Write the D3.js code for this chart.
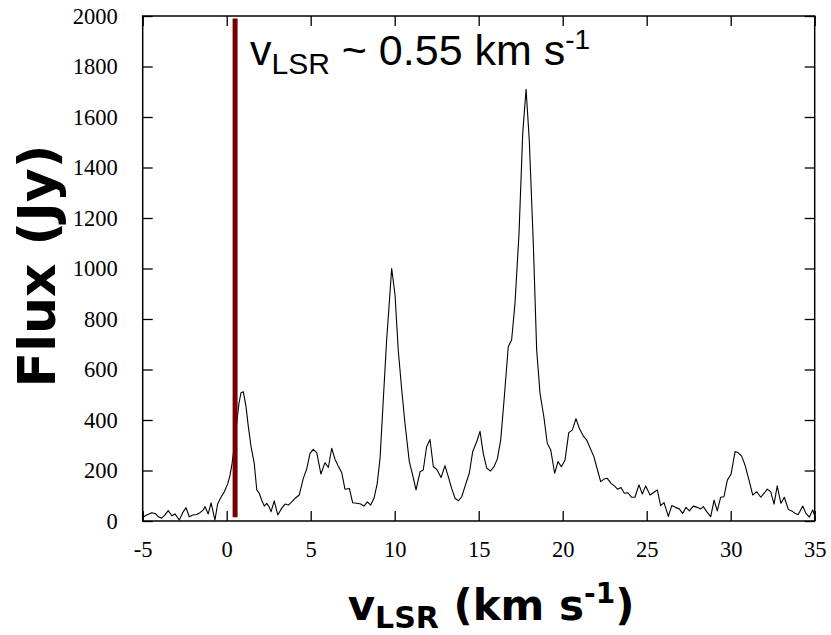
<!DOCTYPE html>
<html>
<head>
<meta charset="utf-8">
<script src="https://cdn.jsdelivr.net/npm/d3@7"></script>
<style>
  body { margin: 0; background: #fff; }
  svg { display: block; }
</style>
</head>
<body>
<div id="chart"></div>
<script>
// Spectrum: velocity (km/s) and flux (Jy)
const velocity = [
  -5.00, -4.76, -4.46, -4.26, -4.07, -3.87, -3.67, -3.48, -3.27, -3.08,
  -2.82, -2.62, -2.42, -2.23, -2.02, -1.79, -1.59, -1.39, -1.29, -1.10,
  -0.93, -0.70, -0.54, -0.34, -0.14, 0.06, 0.20, 0.32, 0.45, 0.60,
  0.73, 0.85, 0.99, 1.15, 1.29, 1.45, 1.64, 1.79, 1.94, 2.08,
  2.24, 2.38, 2.52, 2.64, 2.83, 3.04, 3.27, 3.47, 3.67, 3.87,
  4.07, 4.32, 4.56, 4.76, 4.96, 5.15, 5.36, 5.61, 5.85, 6.05,
  6.25, 6.45, 6.64, 6.85, 7.04, 7.30, 7.50, 7.74, 7.98, 8.17,
  8.37, 8.57, 8.77, 8.96, 9.13, 9.32, 9.52, 9.62, 9.82, 10.02,
  10.21, 10.42, 10.61, 10.87, 11.07, 11.27, 11.51, 11.70, 11.90, 12.10,
  12.30, 12.50, 12.76, 12.99, 13.19, 13.39, 13.59, 13.79, 13.99, 14.18,
  14.44, 14.64, 14.88, 15.08, 15.27, 15.48, 15.71, 15.91, 16.11, 16.31,
  16.51, 16.76, 16.96, 17.16, 17.40, 17.62, 17.82, 18.01, 18.25, 18.45,
  18.65, 18.89, 19.08, 19.29, 19.52, 19.72, 19.92, 20.14, 20.36, 20.57,
  20.79, 20.99, 21.23, 21.43, 21.64, 21.86, 22.07, 22.26, 22.46, 22.65,
  22.88, 23.07, 23.27, 23.47, 23.67, 23.87, 24.11, 24.30, 24.54, 24.74,
  24.94, 25.20, 25.43, 25.63, 25.83, 26.03, 26.29, 26.49, 26.74, 26.94,
  27.14, 27.34, 27.54, 27.77, 28.01, 28.21, 28.37, 28.57, 28.81, 29.01,
  29.20, 29.40, 29.60, 29.80, 30.02, 30.26, 30.45, 30.65, 30.85, 31.09,
  31.31, 31.55, 31.79, 31.99, 32.18, 32.38, 32.58, 32.77, 32.99, 33.19,
  33.43, 33.63, 33.83, 34.02, 34.29, 34.48, 34.68, 34.88, 35.00
];
const flux = [
  15, 24, 33, 30, 17, 11, 24, 41, 21, 28,
  4, 33, 53, 17, 24, 26, 33, 44, 57, 28,
  72, 4, 67, 94, 116, 147, 182, 228, 294, 390,
  466, 508, 512, 453, 373, 294, 228, 123, 110, 83,
  59, 70, 57, 37, 80, 24, 50, 67, 63, 76,
  90, 103, 169, 205, 268, 284, 271, 186, 231, 212,
  288, 244, 218, 191, 126, 129, 72, 70, 67, 59,
  76, 63, 90, 149, 250, 479, 717, 809, 1000, 895,
  677, 519, 387, 235, 182, 123, 195, 202, 294, 323,
  215, 205, 172, 219, 176, 129, 90, 80, 96, 136,
  189, 274, 314, 355, 268, 209, 198, 215, 246, 321,
  479, 690, 717, 862, 1139, 1535, 1710, 1509, 1100, 677,
  506, 407, 308, 281, 189, 235, 215, 242, 350, 360,
  405, 367, 336, 320, 288, 254, 202, 156, 166, 169,
  149, 139, 126, 133, 110, 112, 94, 94, 143, 107,
  139, 103, 114, 123, 61, 73, 18, 61, 53, 48,
  30, 54, 40, 59, 54, 48, 57, 37, 17, 83,
  40, 94, 96, 162, 185, 275, 270, 257, 222, 162,
  103, 116, 94, 110, 126, 116, 67, 139, 70, 94,
  46, 40, 30, 26, 59, 30, 15, 44, 20
];

const xTicks = [-5, 0, 5, 10, 15, 20, 25, 30, 35];
const yTicks = [0, 200, 400, 600, 800, 1000, 1200, 1400, 1600, 1800, 2000];
const markerVelocity = 0.5;   // the red v_LSR line

const width = 831, height = 635;
const plot = { left: 142.7, right: 814.7, top: 16, bottom: 521 };

const svg = d3.select("#chart").append("svg")
    .attr("width", width)
    .attr("height", height);

const x = d3.scaleLinear().domain([-5, 35]).range([plot.left, plot.right]);
const y = d3.scaleLinear().domain([0, 2000]).range([plot.bottom, plot.top]);

const tickLen = 10;

// inward ticks on all four sides, serif tick labels
const axisStyle = g => {
    g.attr("font-family", null).attr("font-size", null);
    g.select(".domain").remove();
    g.selectAll(".tick line").attr("stroke", "#000").attr("stroke-width", 1.3);
    g.selectAll(".tick text")
        .style("font-family", "'Liberation Serif', 'Times New Roman', serif")
        .style("font-size", "22.5px")
        .attr("fill", "#000");
};

svg.append("g")
    .attr("transform", `translate(0,${plot.bottom})`)
    .call(d3.axisBottom(x).tickValues(xTicks).tickFormat(d => String(d))
        .tickSizeInner(-tickLen).tickSizeOuter(0).tickPadding(20))
    .call(axisStyle);

svg.append("g")
    .attr("transform", `translate(0,${plot.top})`)
    .call(d3.axisTop(x).tickValues(xTicks).tickFormat("")
        .tickSizeInner(-tickLen).tickSizeOuter(0))
    .call(axisStyle);

svg.append("g")
    .attr("transform", `translate(${plot.left},0)`)
    .call(d3.axisLeft(y).tickValues(yTicks).tickFormat(d => String(d))
        .tickSizeInner(-tickLen).tickSizeOuter(0).tickPadding(25))
    .call(axisStyle);

svg.append("g")
    .attr("transform", `translate(${plot.right},0)`)
    .call(d3.axisRight(y).tickValues(yTicks).tickFormat("")
        .tickSizeInner(-tickLen).tickSizeOuter(0))
    .call(axisStyle);

// spectrum
const line = d3.line()
    .x((d, i) => x(velocity[i]))
    .y(d => y(d));

svg.append("path")
    .datum(flux)
    .attr("fill", "none")
    .attr("stroke", "#000")
    .attr("stroke-width", 1.1)
    .attr("stroke-linejoin", "round")
    .attr("d", line);

// v_LSR marker
svg.append("line")
    .attr("x1", x(markerVelocity)).attr("x2", x(markerVelocity))
    .attr("y1", y(15)).attr("y2", y(1990))
    .attr("stroke", "#7a0000")
    .attr("stroke-width", 5);

// frame
svg.append("rect")
    .attr("x", plot.left).attr("y", plot.top)
    .attr("width", plot.right - plot.left)
    .attr("height", plot.bottom - plot.top)
    .attr("fill", "none")
    .attr("stroke", "#000")
    .attr("stroke-width", 1.5);

// annotation
const note = svg.append("text")
    .attr("x", 250).attr("y", 65)
    .attr("font-family", "'Liberation Sans', Arial, sans-serif")
    .attr("font-size", 43)
    .attr("fill", "#000");
note.append("tspan").text("v");
note.append("tspan").attr("font-size", 30).attr("dy", 9).text("LSR");
note.append("tspan").attr("dy", -9).text(" ~ 0.55 km s");
note.append("tspan").attr("font-size", 28).attr("dy", -16).text("-1");

// axis titles
const titleFont = "'DejaVu Sans', Verdana, sans-serif";

const xTitle = svg.append("text")
    .attr("x", 491).attr("y", 620)
    .attr("text-anchor", "middle")
    .attr("font-family", titleFont)
    .attr("font-weight", "bold")
    .attr("font-size", 42)
    .attr("fill", "#000");
xTitle.append("tspan").text("v");
xTitle.append("tspan").attr("font-size", 30).attr("dy", 8).text("LSR");
xTitle.append("tspan").attr("dy", -8).text(" (km s");
xTitle.append("tspan").attr("font-size", 28).attr("dy", -17).text("-1");
xTitle.append("tspan").attr("dy", 17).text(")");

svg.append("text")
    .attr("transform", "translate(55,266) rotate(-90)")
    .attr("text-anchor", "middle")
    .attr("font-family", titleFont)
    .attr("font-weight", "bold")
    .attr("font-size", 52)
    .attr("fill", "#000")
    .text("Flux (Jy)");
</script>
</body>
</html>
